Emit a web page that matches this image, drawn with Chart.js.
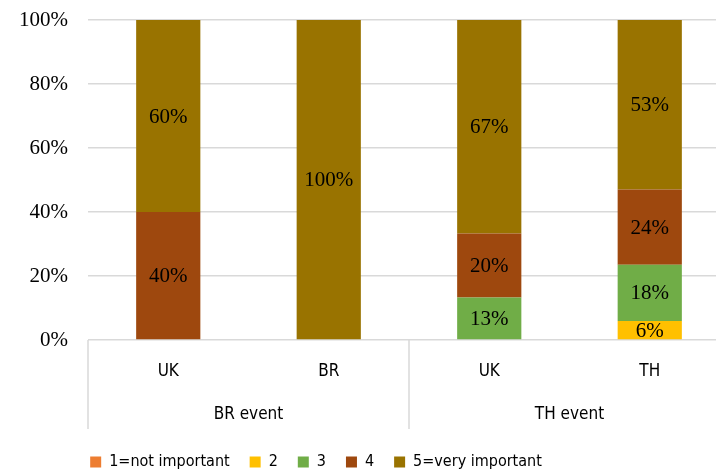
<!DOCTYPE html>
<html>
<head>
<meta charset="utf-8">
<script src="https://cdn.jsdelivr.net/npm/chart.js@4/dist/chart.umd.min.js"></script>
<style>
  html, body { margin: 0; padding: 0; background: #fff; overflow: hidden; }
  #wrap { width: 730px; height: 472px; }
</style>
</head>
<body>
<div id="wrap"><canvas id="chart" width="730" height="472"></canvas></div>
<script>
// categories and groups
const countries = ["UK", "BR", "UK", "TH"];
const groups = ["BR event", "TH event"];

// share of answers per importance level (%)
const notImportant = [0, 0, 0, 0];
const level2 = [0, 0, 0, 5.9];
const level3 = [0, 0, 13.3, 17.6];
const level4 = [40, 0, 20, 23.5];
const veryImportant = [60, 100, 66.7, 53];

const yTicks = [0, 20, 40, 60, 80, 100];

const serif = "'Liberation Serif', 'Times New Roman', serif";
const sans = "'Liberation Sans Narrow', 'DejaVu Sans Condensed', Lato, sans-serif";

// writes the % inside every non-empty segment
const segmentLabels = {
    id: "segmentLabels",
    afterDatasetsDraw(chart) {
        const ctx = chart.ctx;
        ctx.save();
        ctx.font = "21px " + serif;
        ctx.fillStyle = "#000";
        ctx.textAlign = "center";
        ctx.textBaseline = "middle";
        chart.data.datasets.forEach((ds, i) => {
            const meta = chart.getDatasetMeta(i);
            meta.data.forEach((bar, j) => {
                const v = ds.data[j];
                if (!v) return;
                ctx.fillText(Math.round(v) + "%", bar.x, (bar.y + bar.base) / 2 + 1);
            });
        });
        ctx.restore();
    }
};

// group row under the category labels, with separator lines
const groupAxis = {
    id: "groupAxis",
    afterDraw(chart) {
        const ctx = chart.ctx;
        const x = chart.scales.x;
        const top = chart.chartArea.bottom;
        const bottom = top + 89;
        const mid = (x.getPixelForValue(1) + x.getPixelForValue(2)) / 2;
        ctx.save();
        ctx.strokeStyle = "#d9d9d9";
        ctx.lineWidth = 1.5;
        [x.left, mid, x.right].forEach(px => {
            ctx.beginPath();
            ctx.moveTo(px, top);
            ctx.lineTo(px, bottom);
            ctx.stroke();
        });
        ctx.font = "17px " + sans;
        ctx.fillStyle = "#000";
        ctx.textAlign = "center";
        ctx.textBaseline = "middle";
        groups.forEach((g, i) => {
            const cx = (x.getPixelForValue(i * 2) + x.getPixelForValue(i * 2 + 1)) / 2;
            ctx.fillText(g, cx, top + 75);
        });
        ctx.restore();
    }
};

// nudge legend to where it sits in the original
const legendPlace = {
    id: "legendPlace",
    afterLayout(chart) {
        const lg = chart.legend;
        lg.right = lg.left + 632;
        lg.top += 8;
        lg.bottom += 8;
    }
};

new Chart(document.getElementById("chart"), {
    type: "bar",
    data: {
        labels: countries,
        datasets: [
            { label: "1=not important", data: notImportant, backgroundColor: "#ED7D31" },
            { label: "2", data: level2, backgroundColor: "#FFC000" },
            { label: "3", data: level3, backgroundColor: "#70AD47" },
            { label: "4", data: level4, backgroundColor: "#9E480E" },
            { label: "5=very important", data: veryImportant, backgroundColor: "#997300" }
        ]
    },
    options: {
        responsive: false,
        animation: false,
        layout: { padding: { top: 20, left: 0, right: 0, bottom: 0 } },
        datasets: { bar: { categoryPercentage: 1, barPercentage: 0.4 } },
        scales: {
            x: {
                stacked: true,
                grid: { display: false },
                border: { display: false },
                ticks: { font: { family: sans, size: 17 }, color: "#000", padding: 13 },
                afterFit: scale => { scale.height = 86; }
            },
            y: {
                stacked: true,
                min: 0,
                max: 100,
                afterBuildTicks: scale => { scale.ticks = yTicks.map(v => ({ value: v })); },
                grid: { color: "#d9d9d9", lineWidth: 1.5, drawTicks: false },
                border: { display: false },
                ticks: {
                    font: { family: serif, size: 21 },
                    color: "#000",
                    padding: 20,
                    callback: v => v + "%"
                },
                afterFit: scale => {
                    scale.width = 88;
                    scale.paddingTop = 0;
                    scale.paddingBottom = 0;
                }
            }
        },
        plugins: {
            legend: {
                position: "bottom",
                labels: {
                    font: { family: sans, size: 16 },
                    color: "#000",
                    boxWidth: 11,
                    boxHeight: 11,
                    padding: 20
                }
            },
            tooltip: { enabled: false }
        }
    },
    plugins: [segmentLabels, groupAxis, legendPlace]
});
</script>
</body>
</html>
